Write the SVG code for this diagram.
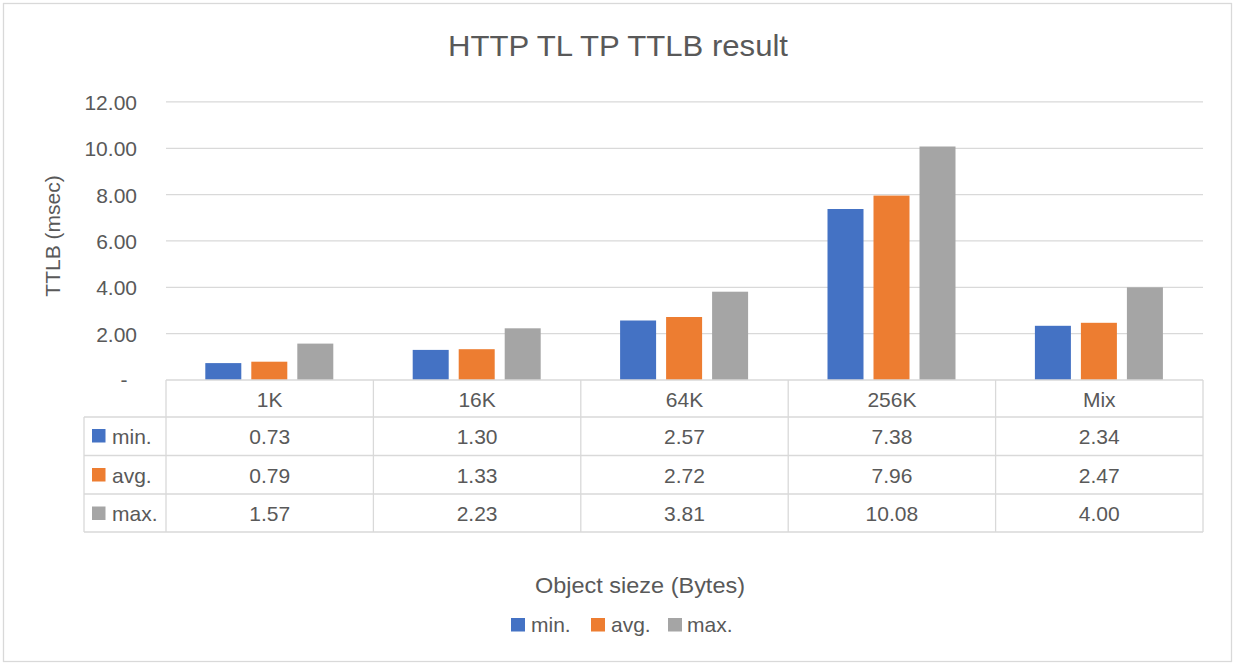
<svg xmlns="http://www.w3.org/2000/svg" width="1233" height="663" viewBox="0 0 1233 663">
<style>
text{font-family:"Liberation Sans",Arial,sans-serif;fill:#595959}
.t{font-size:21px}
.c{text-anchor:middle}
.r{text-anchor:end}
.grid{stroke:#d9d9d9;stroke-width:1.3;fill:none}
.tb{stroke:#d9d9d9;stroke-width:1.3;fill:none}
.b1{fill:#4472C4}
.b2{fill:#ED7D31}
.b3{fill:#A5A5A5}
</style>
<rect x="0" y="0" width="1233" height="663" fill="#ffffff"/>
<rect x="3.5" y="3.5" width="1228" height="658" fill="#ffffff" stroke="#d9d9d9" stroke-width="1.3"/>
<g id="title"><text x="618" y="56" class="c" font-size="30" textLength="340" lengthAdjust="spacingAndGlyphs">HTTP TL TP TTLB result</text></g>
<g id="y-axis">
<text class="c" font-size="21" transform="translate(60,236) rotate(-90)">TTLB (msec)</text>
<text x="137" y="110" class="t r">12.00</text>
<text x="137" y="156.3" class="t r">10.00</text>
<text x="137" y="202.6" class="t r">8.00</text>
<text x="137" y="248.9" class="t r">6.00</text>
<text x="137" y="295.3" class="t r">4.00</text>
<text x="137" y="341.6" class="t r">2.00</text>
<text x="124" y="387" class="t c">-</text>
</g>
<g id="gridlines">
<line class="grid" x1="166" y1="101.9" x2="1203" y2="101.9"/>
<line class="grid" x1="166" y1="148.3" x2="1203" y2="148.3"/>
<line class="grid" x1="166" y1="194.6" x2="1203" y2="194.6"/>
<line class="grid" x1="166" y1="240.9" x2="1203" y2="240.9"/>
<line class="grid" x1="166" y1="287.3" x2="1203" y2="287.3"/>
<line class="grid" x1="166" y1="333.6" x2="1203" y2="333.6"/>
</g>
<g id="bars">
<rect class="b1" x="205.3" y="363.1" width="36" height="16.9"/>
<rect class="b2" x="251.3" y="361.7" width="36" height="18.3"/>
<rect class="b3" x="297.3" y="343.6" width="36" height="36.4"/>
<rect class="b1" x="412.7" y="349.9" width="36" height="30.1"/>
<rect class="b2" x="458.7" y="349.2" width="36" height="30.8"/>
<rect class="b3" x="504.7" y="328.3" width="36" height="51.7"/>
<rect class="b1" x="620.1" y="320.5" width="36" height="59.5"/>
<rect class="b2" x="666.1" y="317.0" width="36" height="63.0"/>
<rect class="b3" x="712.1" y="291.7" width="36" height="88.3"/>
<rect class="b1" x="827.5" y="209.0" width="36" height="171.0"/>
<rect class="b2" x="873.5" y="195.6" width="36" height="184.4"/>
<rect class="b3" x="919.5" y="146.5" width="36" height="233.5"/>
<rect class="b1" x="1034.9" y="325.8" width="36" height="54.2"/>
<rect class="b2" x="1080.9" y="322.8" width="36" height="57.2"/>
<rect class="b3" x="1126.9" y="287.3" width="36" height="92.7"/>
</g>
<g id="connectors">
<line class="tb" x1="166" y1="380" x2="1203" y2="380"/>
<line class="tb" x1="84" y1="417" x2="1203" y2="417"/>
<line class="tb" x1="84" y1="455.5" x2="1203" y2="455.5"/>
<line class="tb" x1="84" y1="494" x2="1203" y2="494"/>
<line class="tb" x1="84" y1="532" x2="1203" y2="532"/>
<line class="tb" x1="84" y1="417" x2="84" y2="532"/>
<line class="tb" x1="166" y1="380" x2="166" y2="532"/>
<line class="tb" x1="373.4" y1="380" x2="373.4" y2="532"/>
<line class="tb" x1="580.8" y1="380" x2="580.8" y2="532"/>
<line class="tb" x1="788.2" y1="380" x2="788.2" y2="532"/>
<line class="tb" x1="995.6" y1="380" x2="995.6" y2="532"/>
<line class="tb" x1="1203" y1="380" x2="1203" y2="532"/>
</g>
<g id="table-header">
<text x="269.7" y="407" class="t c">1K</text>
<text x="477.1" y="407" class="t c">16K</text>
<text x="684.5" y="407" class="t c">64K</text>
<text x="891.9" y="407" class="t c">256K</text>
<text x="1099.3" y="407" class="t c">Mix</text>
</g>
<g id="row-min">
<rect class="b1" x="92" y="429" width="13.5" height="13.5"/>
<text x="112" y="444" class="t">min.</text>
<text x="269.7" y="444" class="t c">0.73</text>
<text x="477.1" y="444" class="t c">1.30</text>
<text x="684.5" y="444" class="t c">2.57</text>
<text x="891.9" y="444" class="t c">7.38</text>
<text x="1099.3" y="444" class="t c">2.34</text>
</g>
<g id="row-avg">
<rect class="b2" x="92" y="468" width="13.5" height="13.5"/>
<text x="112" y="482.5" class="t">avg.</text>
<text x="269.7" y="482.5" class="t c">0.79</text>
<text x="477.1" y="482.5" class="t c">1.33</text>
<text x="684.5" y="482.5" class="t c">2.72</text>
<text x="891.9" y="482.5" class="t c">7.96</text>
<text x="1099.3" y="482.5" class="t c">2.47</text>
</g>
<g id="row-max">
<rect class="b3" x="92" y="506.5" width="13.5" height="13.5"/>
<text x="112" y="521" class="t">max.</text>
<text x="269.7" y="521" class="t c">1.57</text>
<text x="477.1" y="521" class="t c">2.23</text>
<text x="684.5" y="521" class="t c">3.81</text>
<text x="891.9" y="521" class="t c">10.08</text>
<text x="1099.3" y="521" class="t c">4.00</text>
</g>
<g id="x-axis-title"><text x="640" y="593" class="c" font-size="22.5" textLength="210" lengthAdjust="spacingAndGlyphs">Object sieze (Bytes)</text></g>
<g id="legend">
<rect class="b1" x="511" y="618" width="14" height="13.5"/>
<text x="531" y="632" class="t">min.</text>
<rect class="b2" x="591" y="618" width="14" height="13.5"/>
<text x="611" y="632" class="t">avg.</text>
<rect class="b3" x="668" y="618" width="14" height="13.5"/>
<text x="687" y="632" class="t">max.</text>
</g>
</svg>
